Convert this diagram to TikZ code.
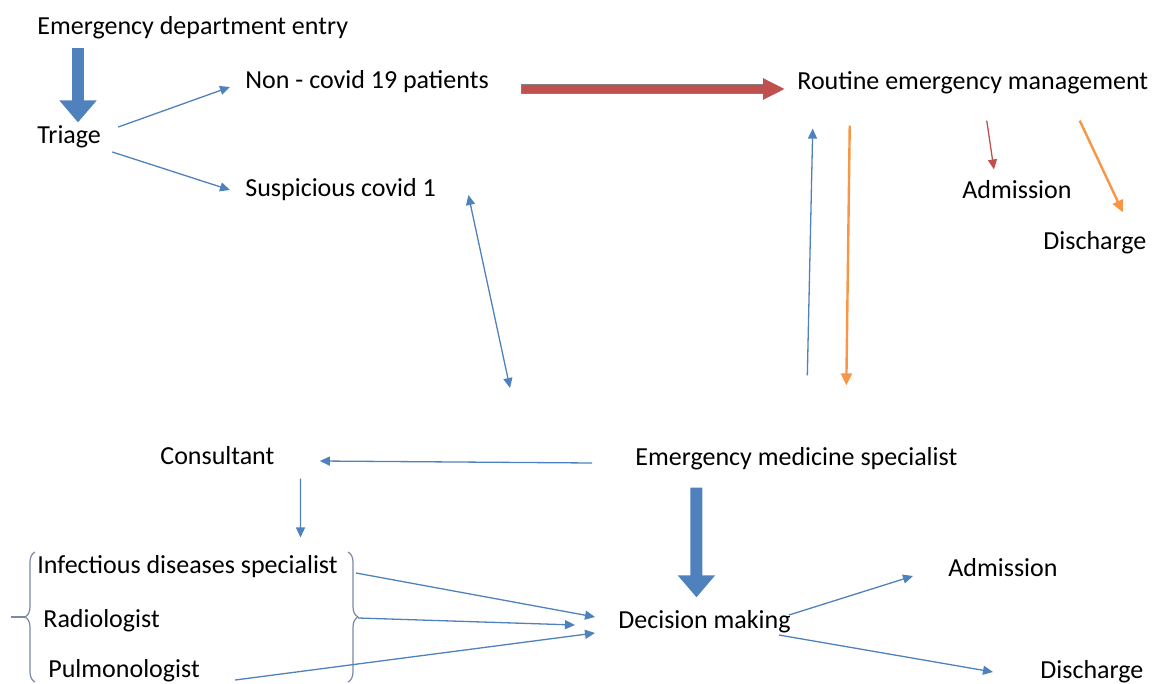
\documentclass[tikz,border=0pt]{standalone}
\usepackage{fontspec}
\setmainfont{Carlito}
\usetikzlibrary{positioning,calc,arrows.meta,decorations.pathreplacing}
\definecolor{myblue}{RGB}{79,129,189}
\definecolor{myred}{RGB}{192,80,77}
\definecolor{myorange}{RGB}{247,150,70}
\definecolor{mygray}{RGB}{120,138,165}

\begin{document}
\begin{tikzpicture}[x=0.5pt,y=-0.5pt,
  every node/.style={inner sep=0pt,anchor=west,font=\fontsize{13}{15}\selectfont},
  thinarr/.style={myblue,line width=0.65pt,-{Triangle[length=5pt,width=4.5pt]}},
  bigarr/.style={myblue,line width=6pt,-{Triangle[length=11pt,width=18pt]}},
  bracestyle/.style={mygray,line width=0.6pt,decorate}
]
\useasboundingbox (0,0) rectangle (1155,684);

% the first column
\node (entry) at (37,28) {Emergency department entry};
\node (triage) at (37,137) {Triage};
\node (noncovid) at (245,82) {Non - covid 19 patients};
\node (suspicious) at (245,190) {Suspicious covid 1};

% the routine side
\node (routine) at (797,83) {Routine emergency management};
\node (admitA) at (962,190) {Admission};
\node (dischA) at (1043,243) {Discharge};

% the specialists
\node (ems) at (635,459) {Emergency medicine specialist};
\node (consultant) at (160,456) {Consultant};
\node (infect) at (37,567) {Infectious diseases specialist};
\node (radio) at (43,621) {Radiologist};
\node (pulmo) at (48,671) {Pulmonologist};

% the decision
\node (decision) at (618,622) {Decision making};
\node (admitB) at (948,568) {Admission};
\node (dischB) at (1040,672) {Discharge};

% the braces
\draw[bracestyle,decoration={brace,amplitude=5pt}] (35,682) -- (35,552);
\draw[mygray,line width=0.6pt] (25,617) -- (11,617);
\draw[bracestyle,decoration={brace,amplitude=5pt}] (348,552) -- (348,682);

% the edges
\draw[bigarr] ($(entry.south west)+(41,8)$) -- ($(triage.north west)+(41,-3)$);
\draw[thinarr] ($(triage.east)+(17,-10)$) -- ($(noncovid.west)+(-15,5)$);
\draw[thinarr] ($(triage.east)+(11,15)$) -- ($(suspicious.west)+(-15,0)$);
\draw[gray,line width=5.2pt] ($(noncovid.east)+(32,7)$) -- ($(routine.west)+(-24,6)$);
\draw[myred,line width=4pt,-{Triangle[length=11pt,width=10pt]}] ($(noncovid.east)+(33,7)$) -- ($(routine.west)+(-12,6)$);
\draw[myred,line width=0.65pt,-{Triangle[length=5pt,width=4.5pt]}] ($(routine.south)+(14,26)$) -- ($(admitA.north)+(-23,-11)$);
\draw[myorange,line width=1.2pt,-{Triangle[length=6pt,width=5.5pt]}] ($(routine.south)+(107,26)$) -- ($(dischA.north)+(28,-19)$);
\draw[thinarr] ($(ems.north)+(11,-72)$) -- ($(routine.south)+(-160,34)$);
\draw[myorange,line width=1.2pt,-{Triangle[length=6pt,width=5.5pt]}] ($(routine.south)+(-123,31)$) -- ($(ems.north)+(50,-62)$);
\draw[thinarr,{Triangle[length=5pt,width=4.5pt]}-{Triangle[length=5pt,width=4.5pt]}] ($(suspicious.east)+(32,5)$) -- ($(ems.west)+(-125,-71)$);
\draw[thinarr] ($(ems.west)+(-43,4)$) -- ($(consultant.east)+(45,5)$);
\draw[thinarr] ($(consultant.south)+(83,13)$) -- ($(infect.north)+(113,-18)$);
\draw[bigarr] ($(ems.south)+(-100,17)$) -- ($(decision.north)+(-8,-13)$);
\draw[thinarr] ($(infect.east)+(18,6)$) -- ($(decision.west)+(-23,-5)$);
\draw[thinarr] ($(radio.east)+(198,-3)$) -- ($(decision.west)+(-43,3)$);
\draw[thinarr] ($(pulmo.east)+(35,9)$) -- ($(decision.west)+(-23,11)$);
\draw[thinarr] ($(decision.east)+(-2,-7)$) -- ($(admitB.west)+(-35,8)$);
\draw[thinarr] ($(decision.east)+(-12,13)$) -- ($(dischB.west)+(-47,0)$);
\end{tikzpicture}
\end{document}
